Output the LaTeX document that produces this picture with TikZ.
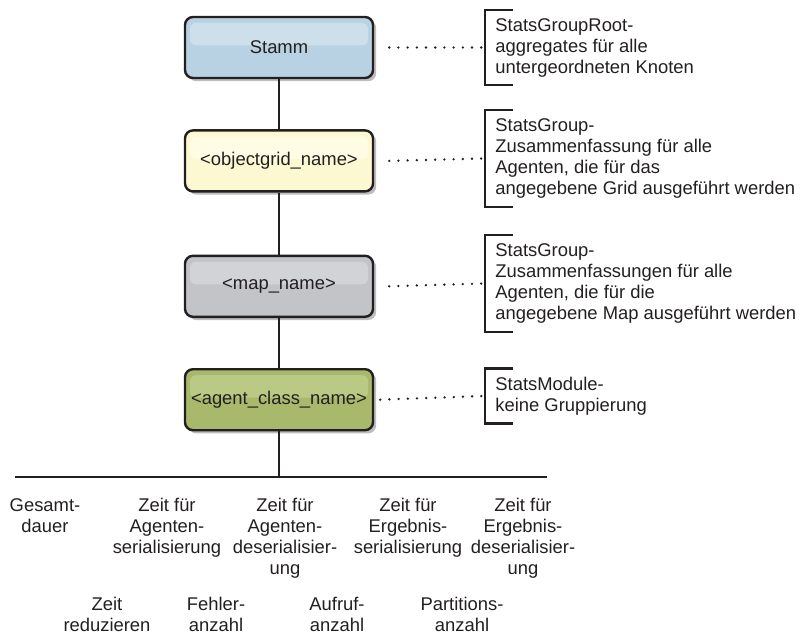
\documentclass[tikz,border=0pt]{standalone}
\usepackage{fontspec}
\setmainfont{Liberation Sans}
\usepackage{tikz}
\usetikzlibrary{positioning,shadows}

\definecolor{ink}{HTML}{231F20}
\definecolor{rootblue}{HTML}{B9D2E3}
\definecolor{rootblueHi}{HTML}{CCDFEB}
\definecolor{gridyellow}{HTML}{FCF9D2}
\definecolor{gridyellowHi}{HTML}{FEFCE4}
\definecolor{mapgrey}{HTML}{C3C4C8}
\definecolor{mapgreyHi}{HTML}{D2D3D6}
\definecolor{agentgreen}{HTML}{A9B96C}
\definecolor{agentgreenHi}{HTML}{BAC983}

\begin{document}
\begin{tikzpicture}[
    x=0.5pt, y=-0.5pt,
    every node/.style={font=\fontsize{9.2}{10.5}\selectfont, text=ink},
    box/.style n args={2}{rectangle, rounded corners=4pt, draw=ink, line width=1.2pt,
        fill=#1, minimum width=94pt, minimum height=30.5pt, align=center, inner xsep=1pt,
        drop shadow={shadow xshift=1.6pt, shadow yshift=-1.6pt, fill=black!26, opacity=1},
        path picture={\fill[#2, rounded corners=3pt]
            ([shift={(2.5pt,-3pt)}]path picture bounding box.north west) rectangle
            ([shift={(-2.5pt,1pt)}]path picture bounding box.east);}},
    note/.style={anchor=west, align=left, inner xsep=5pt, inner ysep=4pt},
    lbl/.style={anchor=north, align=center, inner sep=0pt},
    tline/.style={draw=ink, line width=1pt},
    bracket/.style={draw=ink, line width=1.2pt},
    dots/.style={draw=ink, line width=1.3pt, line cap=round, dash pattern=on 0pt off 4.6pt}
]
    \useasboundingbox (0,0) rectangle (802,636);

    % tree of statistic groups
    \node[box={rootblue}{rootblueHi}] (stamm) at (279,47.5) {Stamm};
    \node[box={gridyellow}{gridyellowHi}, below=25pt of stamm] (grid) {<objectgrid\_name>};
    \node[box={mapgrey}{mapgreyHi}, below=31pt of grid] (map) {<map\_name>};
    \node[box={agentgreen}{agentgreenHi}, below=25pt of map] (agent) {<agent\_class\_name>};

    \draw[tline] (stamm.south) -- (grid.north);
    \draw[tline] (grid.south) -- (map.north);
    \draw[tline] (map.south) -- (agent.north);

    % notes on the right
    \node[note] (rootnote) at (485,47.5) {StatsGroupRoot-\\aggregates für alle\\untergeordneten Knoten};
    \node[note] (gridnote) at (485,158.5) {StatsGroup-\\Zusammenfassung für alle\\Agenten, die für das\\angegebene Grid ausgeführt werden};
    \node[note] (mapnote) at (485,283.5) {StatsGroup-\\Zusammenfassungen für alle\\Agenten, die für die\\angegebene Map ausgeführt werden};
    \node[note] (agentnote) at (485,396) {StatsModule-\\keine Gruppierung};

    \draw[bracket] ([xshift=14pt]rootnote.north west) -- (rootnote.north west) -- (rootnote.south west) -- ([xshift=14pt]rootnote.south west);
    \draw[bracket] ([xshift=14pt]gridnote.north west) -- (gridnote.north west) -- (gridnote.south west) -- ([xshift=14pt]gridnote.south west);
    \draw[bracket] ([xshift=14pt]mapnote.north west) -- (mapnote.north west) -- (mapnote.south west) -- ([xshift=14pt]mapnote.south west);
    \draw[bracket] ([xshift=14pt]agentnote.north west) -- (agentnote.north west) -- (agentnote.south west) -- ([xshift=14pt]agentnote.south west);

    \draw[dots] ([xshift=7.5pt]stamm.east) -- ([xshift=-1pt]rootnote.west);
    \draw[dots] ([xshift=7.5pt]grid.east) -- ([xshift=-1pt]gridnote.west);
    \draw[dots] ([xshift=7.5pt]map.east) -- ([xshift=-1pt]mapnote.west);
    \draw[dots] ([xshift=3pt]agent.east) -- ([xshift=-1pt]agentnote.west);

    % statistics bus
    \coordinate (busL) at (15,477);
    \coordinate (busR) at (547,477);
    \draw[tline] (busL) -- (busR);
    \draw[tline] (agent.south) -- (agent.south |- busL);

    \node[lbl] (total) at (45,498) {Gesamt-\\dauer};
    \node[lbl] (agser) at (167,498) {Zeit für\\Agenten-\\serialisierung};
    \node[lbl] (agdeser) at (285,498) {Zeit für\\Agenten-\\deserialisier-\\ung};
    \node[lbl] (resser) at (408,498) {Zeit für\\Ergebnis-\\serialisierung};
    \node[lbl] (resdeser) at (523,498) {Zeit für\\Ergebnis-\\deserialisier-\\ung};

    \node[lbl] (reduce) at (107,597) {Zeit\\reduzieren};
    \node[lbl] (errors) at (216,597) {Fehler-\\anzahl};
    \node[lbl] (calls) at (337,597) {Aufruf-\\anzahl};
    \node[lbl] (parts) at (462,597) {Partitions-\\anzahl};
\end{tikzpicture}
\end{document}
